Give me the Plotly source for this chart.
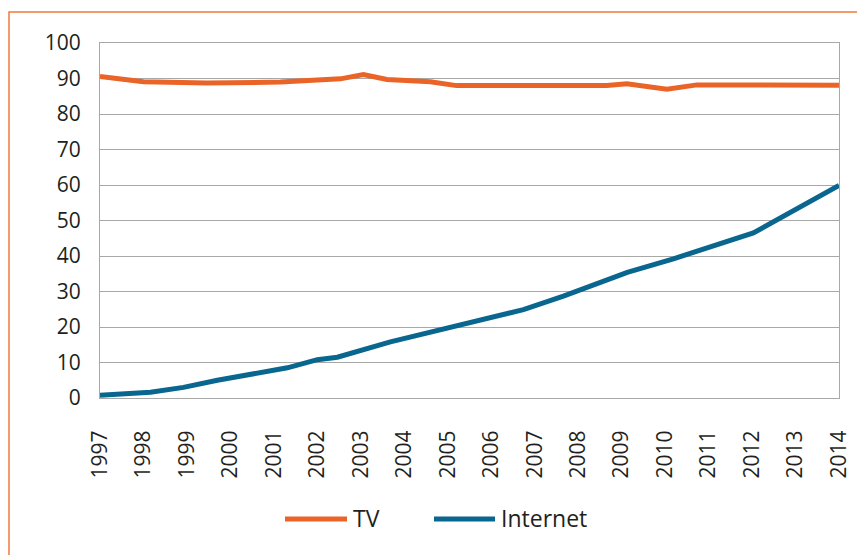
import plotly.graph_objects as go

# Data
tv_years = [1997.0, 1998.0, 1999.46, 2001.15, 2002.53, 2003.06, 2003.6, 2004.6, 2005.2,
            2008.66, 2009.12, 2010.04, 2010.73, 2014.0]
tv_values = [90.6, 89.1, 88.7, 89.0, 89.9, 91.1, 89.7, 89.1, 88.0,
             88.0, 88.5, 87.0, 88.2, 88.1]

net_years = [1997.0, 1998.16, 1998.92, 1999.7, 2001.31, 2002.0, 2002.46, 2003.68,
             2006.74, 2007.66, 2009.13, 2010.19, 2012.03, 2014.0]
net_values = [0.8, 1.6, 3.0, 5.0, 8.5, 10.8, 11.5, 15.8,
              24.9, 28.7, 35.4, 39.2, 46.5, 59.9]

x_ticks = list(range(1997, 2015))
y_ticks = list(range(0, 101, 10))

series_names = ["TV", "Internet"]
tv_color = "#EA6428"
net_color = "#09668F"
font_family = "Open Sans, sans-serif"
text_color = "#231F20"

fig = go.Figure()
fig.add_trace(go.Scatter(x=tv_years, y=tv_values, mode="lines", name=series_names[0],
                         line=dict(color=tv_color, width=5), showlegend=False))
fig.add_trace(go.Scatter(x=net_years, y=net_values, mode="lines", name=series_names[1],
                         line=dict(color=net_color, width=5), showlegend=False))

W, H = 857, 555
ml, mr, mt, mb = 100, 18, 43, 157
pw, ph = W - ml - mr, H - mt - mb


def px(x):
    return (x - ml) / pw


def py(y):
    return (H - mb - y) / ph


shapes = [
    # orange frame
    dict(type="rect", xref="paper", yref="paper", x0=px(9), x1=px(880), y0=py(580), y1=py(12),
         line=dict(color="#EE7B3E", width=1.5), layer="below"),
    # legend lines
    dict(type="line", xref="paper", yref="paper", x0=px(285), x1=px(347), y0=py(519), y1=py(519),
         line=dict(color=tv_color, width=5)),
    dict(type="line", xref="paper", yref="paper", x0=px(434), x1=px(495), y0=py(519), y1=py(519),
         line=dict(color=net_color, width=5)),
]

annotations = [
    dict(text=series_names[0], xref="paper", yref="paper", x=px(351), y=py(518),
         xanchor="left", yanchor="middle", showarrow=False,
         font=dict(family=font_family, size=23, color=text_color)),
    dict(text=series_names[1], xref="paper", yref="paper", x=px(499), y=py(518),
         xanchor="left", yanchor="middle", showarrow=False,
         font=dict(family=font_family, size=23, color=text_color)),
]

fig.update_layout(
    width=W, height=H,
    margin=dict(l=ml, r=mr, t=mt, b=mb, autoexpand=False),
    paper_bgcolor="white", plot_bgcolor="white",
    font=dict(family=font_family, size=21, color=text_color),
    shapes=shapes, annotations=annotations,
    showlegend=False,
)
fig.update_xaxes(range=[1997, 2014], tickvals=x_ticks, ticktext=[str(t) for t in x_ticks],
                 tickangle=-90, showgrid=False, showline=True, mirror=True,
                 linecolor="#A8A8A8", linewidth=1, ticks="", zeroline=False, automargin=False,
                 ticklabelstandoff=23, tickfont=dict(size=21))
fig.update_yaxes(range=[0, 100], tickvals=y_ticks, showgrid=True, gridcolor="#A8A8A8",
                 gridwidth=1, showline=True, mirror=True, linecolor="#A8A8A8", linewidth=1,
                 ticks="", zeroline=False, automargin=False,
                 ticklabelstandoff=14, tickfont=dict(size=21))

fig.write_html("out.html")
